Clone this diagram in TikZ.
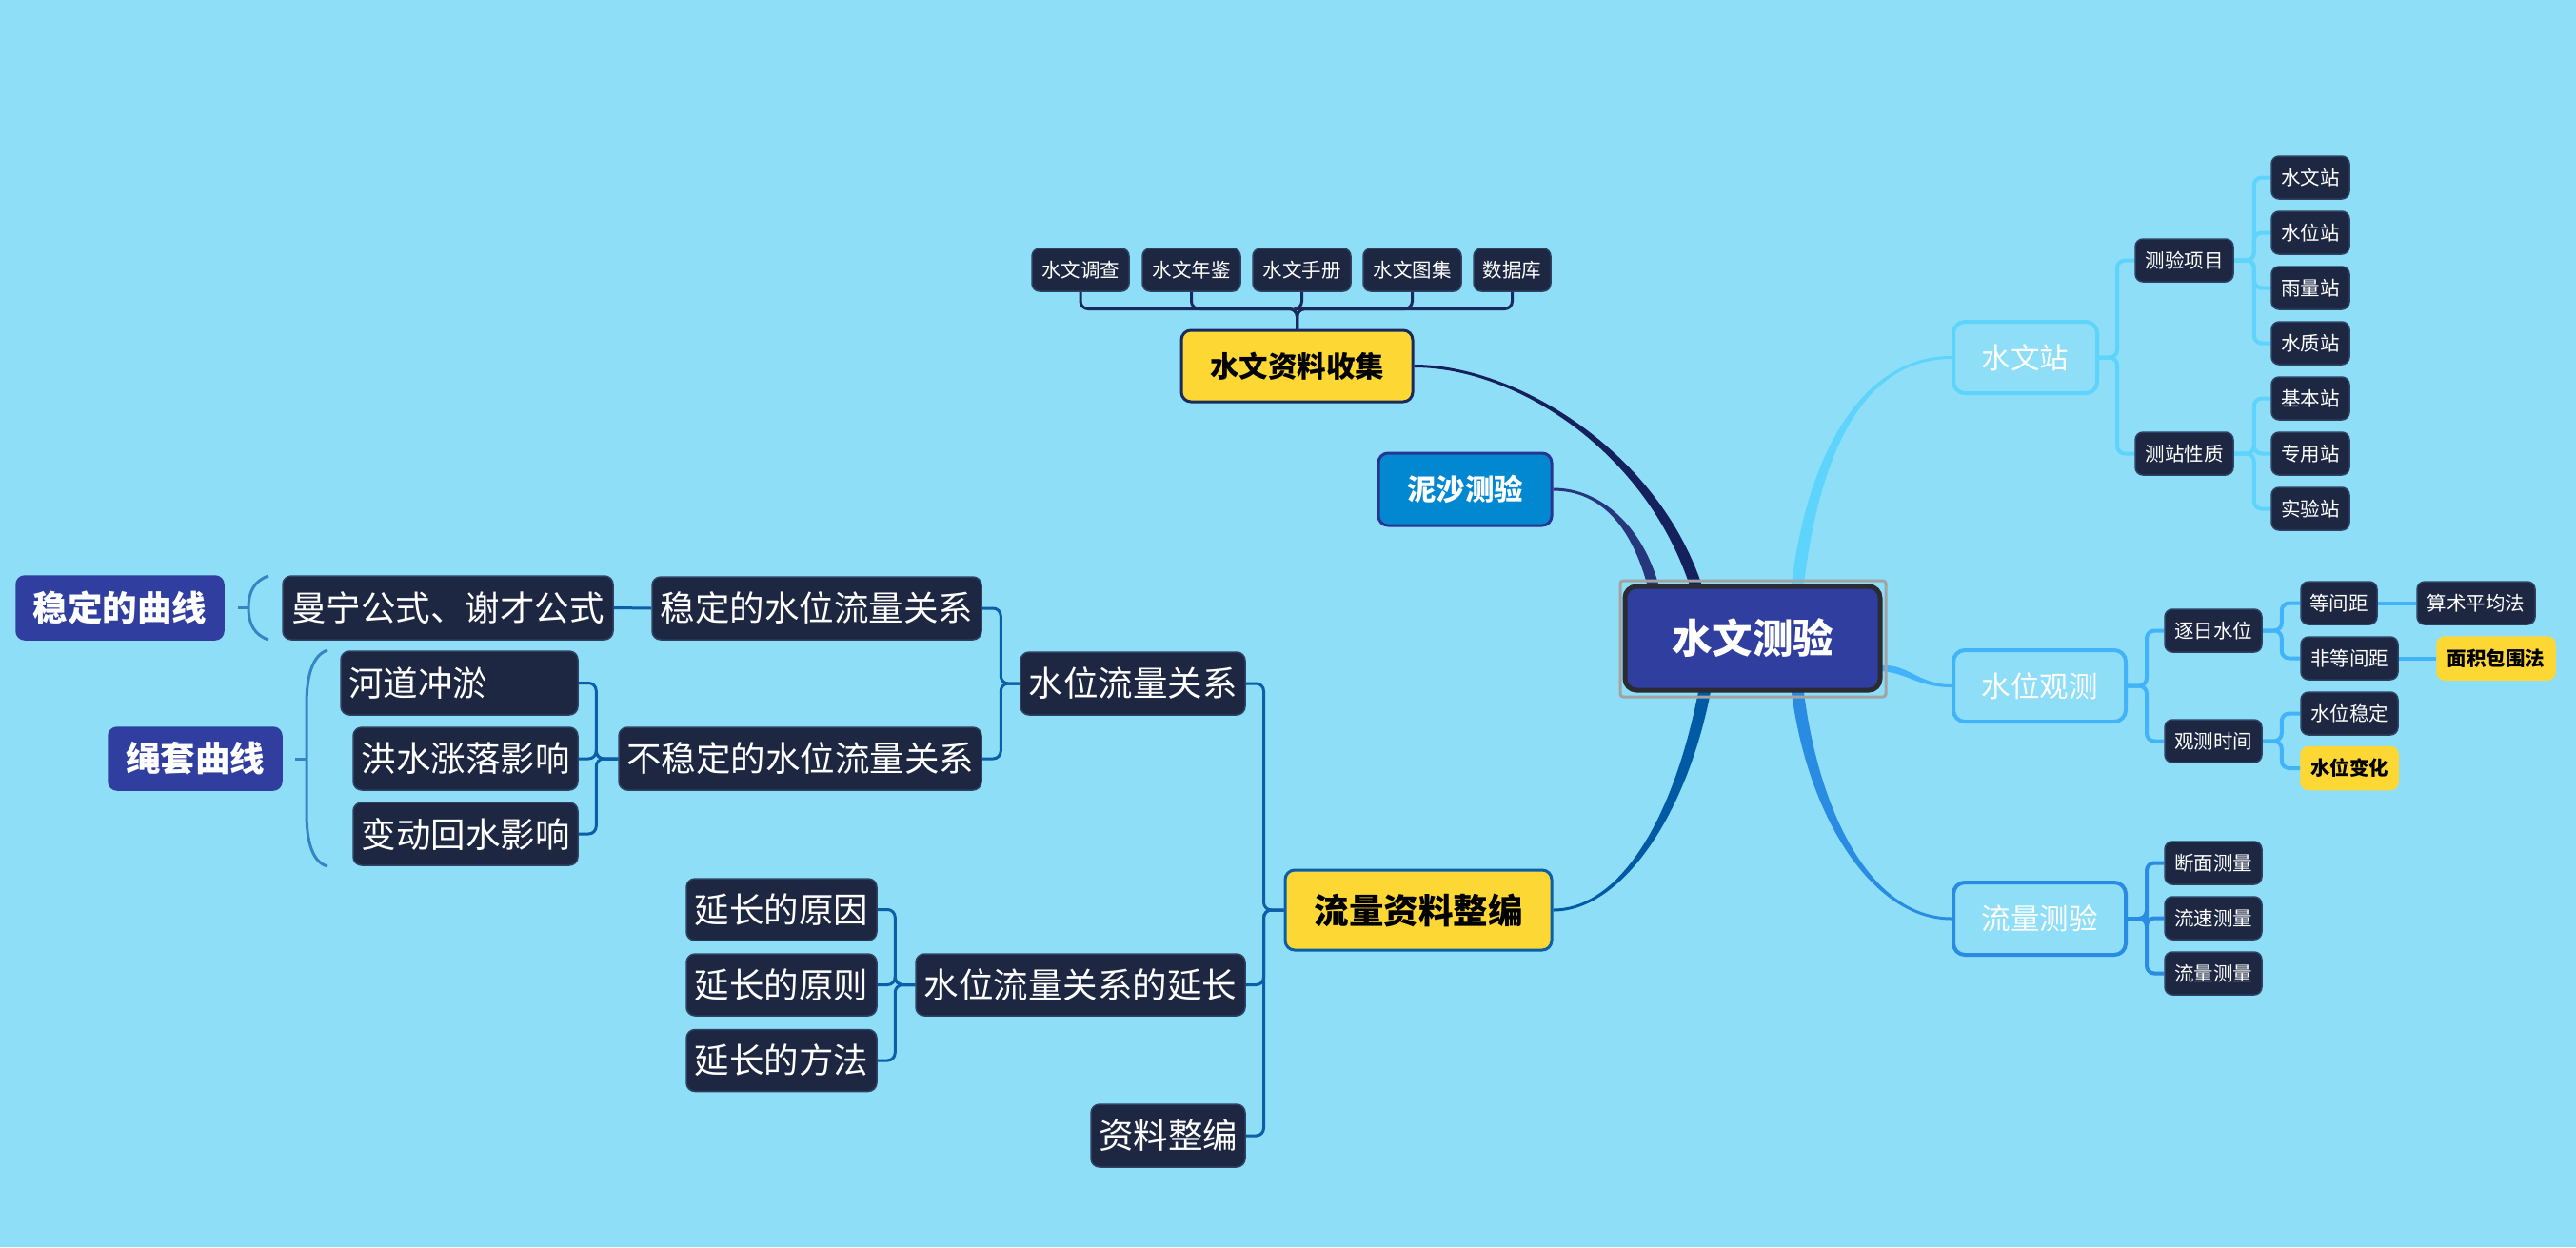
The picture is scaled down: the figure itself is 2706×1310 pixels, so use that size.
\documentclass[tikz,border=0pt]{standalone}
\usepackage{fontspec}
\setmainfont{Noto Sans CJK SC}
\usetikzlibrary{calc}
\definecolor{bgc}{HTML}{8EDEF8}
\definecolor{dk}{HTML}{1E2741}
\definecolor{dkb}{HTML}{2E4162}
\definecolor{ind}{HTML}{303F9F}
\definecolor{cenb}{HTML}{2B2B33}
\definecolor{frm}{HTML}{A3A3A3}
\definecolor{yel}{HTML}{FDD835}
\definecolor{nav}{HTML}{1B2A5E}
\definecolor{ns}{HTML}{0288D1}
\definecolor{nsb}{HTML}{283593}
\definecolor{lb}{HTML}{0B5EA8}
\definecolor{brc}{HTML}{3585C5}
\definecolor{ca}{HTML}{5ED4FD}
\definecolor{cb}{HTML}{42B3F9}
\definecolor{cc}{HTML}{2A8BE2}
\definecolor{ka}{HTML}{15215C}
\definecolor{kb}{HTML}{27377E}
\definecolor{kc}{HTML}{005BA4}
\newcommand\fsz[1]{\fontsize{#1}{#1}\selectfont}
\pgfdeclarelayer{back}
\pgfdeclarelayer{conn}
\pgfsetlayers{back,conn,main}
\begin{document}
\begin{tikzpicture}[x=1pt,y=-1pt,
  box/.style={rectangle, rounded corners=8pt, inner sep=0pt, text=white},
  leaf/.style={box, fill=dk, draw=dkb, line width=1.5pt, minimum height=45pt, font=\fsz{20.5}},
  big/.style={box, fill=dk, draw=dkb, line width=1.5pt, minimum height=66pt, rounded corners=9pt, font=\fsz{36.5}},
  cat/.style={box, line width=4pt, rounded corners=12pt, minimum height=75pt, font=\fsz{30.5}},
  yl/.style={fill=yel, text=black},
  lnk/.style={line width=3pt, rounded corners=8pt},
  brace/.style={draw=brc, line width=3pt}]
\begin{pgfonlayer}{back}
\fill[bgc] (0,0) rectangle (2706,1310);
\end{pgfonlayer}
\useasboundingbox (0,0) rectangle (2706,1310);

% central
\node[draw=frm, line width=3pt, rounded corners=3pt, minimum width=279pt, minimum height=122pt, inner sep=0pt] (rootf) at (1841.5,671) {};
\node[box, fill=ind, draw=cenb, line width=5pt, rounded corners=12pt, minimum width=268pt, minimum height=109pt, font=\fsz{42.5}\bfseries] (root) at (1841,670.5) {水文测验};

% top
\node[box, yl, draw=nav, line width=3pt, rounded corners=10pt, minimum width=243pt, minimum height=75pt, font=\fsz{30.5}\bfseries] (sjsj) at (1362.5,384.5) {水文资料收集};
\node[leaf, minimum width=102pt] (t1) at (1135,283.5) {水文调查};
\node[leaf, minimum width=103pt] (t2) at (1251.5,283.5) {水文年鉴};
\node[leaf, minimum width=103pt] (t3) at (1367.5,283.5) {水文手册};
\node[leaf, minimum width=103pt] (t4) at (1483.5,283.5) {水文图集};
\node[leaf, minimum width=81pt] (t5) at (1588.5,283.5) {数据库};
\node[box, fill=ns, draw=nsb, line width=3pt, rounded corners=10pt, minimum width=182pt, minimum height=76pt, font=\fsz{30.5}\bfseries] (nscy) at (1539,514) {泥沙测验};

% right
\node[cat, draw=ca, minimum width=151pt] (swz) at (2127.5,375.5) {水文站};
\node[leaf, minimum width=103pt] (cxm) at (2294.5,273.5) {测验项目};
\node[leaf, minimum width=103pt] (czx) at (2294.5,476.5) {测站性质};
\node[leaf, minimum width=82pt] (ra) at (2427,186.5) {水文站};
\node[leaf, minimum width=82pt] (rb) at (2427,244.5) {水位站};
\node[leaf, minimum width=82pt] (rc) at (2427,302.5) {雨量站};
\node[leaf, minimum width=82pt] (rd) at (2427,360.5) {水质站};
\node[leaf, minimum width=82pt] (re) at (2427,418.5) {基本站};
\node[leaf, minimum width=82pt] (rf) at (2427,476.5) {专用站};
\node[leaf, minimum width=82pt] (rg) at (2427,534.5) {实验站};

\node[cat, draw=cb, minimum width=181pt] (swgc) at (2142.5,720.5) {水位观测};
\node[leaf, minimum width=102pt] (zr) at (2325,662.5) {逐日水位};
\node[leaf, minimum width=102pt] (gcsj) at (2325,778.5) {观测时间};
\node[leaf, minimum width=80pt] (djj) at (2457,633.5) {等间距};
\node[leaf, minimum width=102pt] (fdj) at (2468,691.5) {非等间距};
\node[leaf, minimum width=124pt] (sspj) at (2601,633.5) {算术平均法};
\node[leaf, yl, draw=yel, minimum width=124pt, font=\fsz{20.5}\bfseries] (mjbw) at (2622,691.5) {面积包围法};
\node[leaf, minimum width=102pt] (swwd) at (2468,749.5) {水位稳定};
\node[leaf, yl, draw=yel, minimum width=102pt, font=\fsz{20.5}\bfseries] (swbh) at (2468,807) {水位变化};

\node[cat, draw=cc, minimum width=181pt, minimum height=76pt] (llc) at (2142.5,965) {流量测验};
\node[leaf, minimum width=102pt] (dm) at (2325,906.5) {断面测量};
\node[leaf, minimum width=102pt] (lsu) at (2325,964.5) {流速测量};
\node[leaf, minimum width=102pt] (llm) at (2325,1022.5) {流量测量};

% left
\node[box, yl, draw=lb, line width=3pt, rounded corners=10pt, minimum width=280pt, minimum height=84pt, font=\fsz{36.5}\bfseries] (lzb) at (1490,956) {流量资料整编};
\node[big, minimum width=236pt] (swlg) at (1190,718) {水位流量关系};
\node[big, minimum width=346pt] (wd) at (858,639) {稳定的水位流量关系};
\node[big, minimum width=381pt] (bwd) at (840.5,797) {不稳定的水位流量关系};
\node[big, minimum width=346pt, minimum height=65pt] (yc) at (1135,1034.5) {水位流量关系的延长};
\node[big, minimum width=200pt, minimum height=65pt] (yy) at (821,955.5) {延长的原因};
\node[big, minimum width=200pt, minimum height=65pt] (yz) at (821,1034.5) {延长的原则};
\node[big, minimum width=200pt, minimum height=65pt] (yf) at (821,1114) {延长的方法};
\node[big, minimum width=162pt] (zlzb) at (1227,1193) {资料整编};
\node[big, minimum width=347pt, minimum height=67pt] (mn) at (470.5,638.5) {曼宁公式、谢才公式};
\node[big, fill=ind, draw=ind, font=\fsz{36.5}\bfseries, minimum width=218pt, minimum height=67pt] (wdqx) at (126,638.5) {稳定的曲线};
\node[big, fill=ind, draw=ind, font=\fsz{36.5}\bfseries, minimum width=182pt] (stqx) at (205,797) {绳套曲线};
\node[big, minimum width=249pt, minimum height=67pt, text width=233pt, inner xsep=8pt, align=left] (hd) at (482.5,717.5) {河道冲淤};
\node[big, minimum width=236pt] (hs) at (489,797) {洪水涨落影响};
\node[big, minimum width=236pt] (bd) at (489,876) {变动回水影响};

\coordinate (r1) at (1782,617);
\coordinate (r2) at (1737,617);
\coordinate (r3) at (1791,724);
\coordinate (r4) at (1888,724);
\coordinate (r5) at (1888,617);
\coordinate (r6) at (1976,702);

\begin{pgfonlayer}{conn}
% main tapered branches
\fill[ka] ($(sjsj.east)+(0,-1.5)$) .. controls +(106,0) and +(-47,-144) .. ($(r1)+(6.5,0)$) -- ($(r1)+(-6.5,0)$) .. controls +(-47,-144) and +(106,0) .. ($(sjsj.east)+(0,1.5)$) -- cycle;
\fill[kb] ($(nscy.east)+(0,-1.5)$) .. controls +(50,0) and +(-17,-64) .. ($(r2)+(6,0)$) -- ($(r2)+(-6,0)$) .. controls +(-17,-64) and +(50,0) .. ($(nscy.east)+(0,1.5)$) -- cycle;
\fill[kc] ($(lzb.east)+(0,1.5)$) .. controls +(70,0) and +(-26,136) .. ($(r3)+(6.5,0)$) -- ($(r3)+(-6.5,0)$) .. controls +(-26,136) and +(70,0) .. ($(lzb.east)+(0,-1.5)$) -- cycle;
\fill[cc] ($(llc.west)+(0,1.5)$) .. controls +(-82,0) and +(17,136) .. ($(r4)+(-6.5,0)$) -- ($(r4)+(6.5,0)$) .. controls +(17,136) and +(-82,0) .. ($(llc.west)+(0,-1.5)$) -- cycle;
\fill[ca] ($(swz.west)+(0,-1.5)$) .. controls +(-92,0) and +(17,-144) .. ($(r5)+(-6.5,0)$) -- ($(r5)+(6.5,0)$) .. controls +(17,-144) and +(-92,0) .. ($(swz.west)+(0,1.5)$) -- cycle;
\fill[cb] ($(swgc.west)+(0,-1.5)$) .. controls +(-35,0) and +(28,-2) .. ($(r6)+(0,-3)$) -- ($(r6)+(0,3)$) .. controls +(28,2) and +(-35,0) .. ($(swgc.west)+(0,1.5)$) -- cycle;

% top bus
\foreach \t in {t1,t2,t3,t4,t5}
  \draw[lnk, nav] (sjsj.north) -- ++(0,-21) -| (\t.south);

% right groups
\foreach \t in {cxm,czx}
  \draw[lnk, ca, line width=4pt] (swz.east) -- ++(19,0) |- (\t.west);
\foreach \t in {ra,rb,rc,rd}
  \draw[lnk, ca, line width=4pt] (cxm.east) -- ++(21,0) |- (\t.west);
\foreach \t in {re,rf,rg}
  \draw[lnk, ca, line width=4pt] (czx.east) -- ++(21,0) |- (\t.west);
\foreach \t in {zr,gcsj}
  \draw[lnk, cb, line width=4pt] (swgc.east) -- ++(20,0) |- (\t.west);
\foreach \t in {djj,fdj}
  \draw[lnk, cb, line width=4pt] (zr.east) -- ++(20,0) |- (\t.west);
\foreach \t in {swwd,swbh}
  \draw[lnk, cb, line width=4pt] (gcsj.east) -- ++(20,0) |- (\t.west);
\draw[cb, line width=4pt] (djj.east) -- (sspj.west);
\draw[cb, line width=4pt] (fdj.east) -- (mjbw.west);
\foreach \t in {dm,lsu,llm}
  \draw[lnk, cc, line width=4pt] (llc.east) -- ++(20,0) |- (\t.west);

% left groups
\foreach \t in {swlg,yc,zlzb}
  \draw[lnk, lb] (lzb.west) -- ++(-21,0) |- (\t.east);
\foreach \t in {wd,bwd}
  \draw[lnk, lb] (swlg.west) -- ++(-20,0) |- (\t.east);
\foreach \t in {yy,yz,yf}
  \draw[lnk, lb] (yc.west) -- ++(-21,0) |- (\t.east);
\foreach \t in {hd,hs,bd}
  \draw[lnk, lb] (bwd.west) -- ++(-23,0) |- (\t.east);
\draw[lb, line width=3pt] (wd.west) -- (mn.east);

% braces
\draw[brace] (250,638.5) -- (261,638.5);
\draw[brace] (282,605) .. controls (267,610) and (261,622) .. (261,638.5) .. controls (261,655) and (267,667) .. (282,672);
\draw[brace] (310,797) -- (322,797);
\draw[brace] (344,683) .. controls (329,688) and (322,708) .. (322,740) -- (322,854) .. controls (322,886) and (329,906) .. (344,910);
\end{pgfonlayer}
\end{tikzpicture}
\end{document}
